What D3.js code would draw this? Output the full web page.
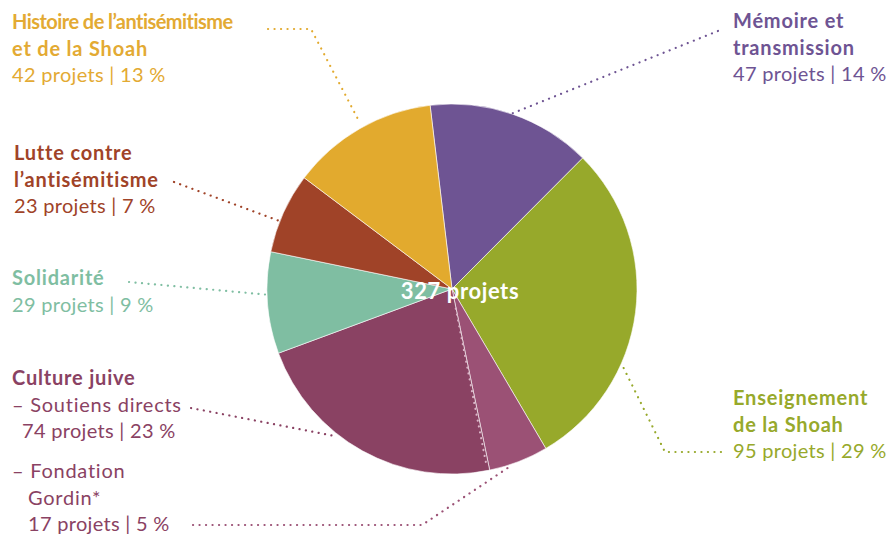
<!DOCTYPE html>
<html><head><meta charset="utf-8">
<script src="https://cdn.jsdelivr.net/npm/d3@7/dist/d3.min.js"></script>
<style>body{margin:0;background:#fff}svg{display:block}text{font-family:Lato,"Open Sans",sans-serif}</style>
</head><body>
<svg id="c" width="893" height="535"></svg>
<script>
// Data (clockwise from the top)
const categories = ["Mémoire et transmission","Enseignement de la Shoah","Fondation Gordin","Culture juive – Soutiens directs","Solidarité","Lutte contre l’antisémitisme","Histoire de l’antisémitisme et de la Shoah"];
const values = [47, 95, 17, 74, 29, 23, 42];
const percents = [14, 29, 5, 23, 9, 7, 13];
const totalLabel = "327 projets";

// Styles
const colors = ["#6e5493","#97a92b","#9b5175","#8a4263","#7fbea2","#a04328","#e2aa2e"];
const textColors = ["#6e5493","#97a92b","#8a4263","#8a4263","#7fbea2","#a04328","#e3aa33"];

// Layout
const W = 893, H = 535, cx = 452, cy = 289, R = 185;
const startDeg = -6.8;
const svg = d3.select("#c");
const g = svg.append("g").attr("transform", `translate(${cx},${cy})`);

const pie = d3.pie().sort(null).value(d => d)
  .startAngle(startDeg * Math.PI / 180)
  .endAngle((360 + startDeg) * Math.PI / 180);
const arcs = pie(values);
const arc = d3.arc().innerRadius(0).outerRadius(R);

g.selectAll("path.slice").data(arcs).enter().append("path")
  .attr("class", "slice")
  .attr("d", arc)
  .attr("fill", (d, i) => colors[i])
  .attr("stroke", "#fff").attr("stroke-width", 0.6);

// dotted separator inside Culture juive (boundary with Fondation Gordin)
const sep = arcs[2].endAngle;
const ptAt = (a, r) => [r * Math.sin(a), -r * Math.cos(a)];
{
  const a = sep + 0.012;
  const p1 = ptAt(a, 20), p2 = ptAt(a, R - 8);
  g.append("line").attr("x1", p1[0]).attr("y1", p1[1]).attr("x2", p2[0]).attr("y2", p2[1])
    .attr("stroke", "#d9b3c6").attr("stroke-width", 2.2)
    .attr("stroke-dasharray", "0.1 5.9").attr("stroke-linecap", "round");
}

// center label
g.append("text").attr("x", 8).attr("y", 10).attr("text-anchor", "middle")
  .attr("fill", "#fff").attr("font-size", 22).attr("font-weight", 700)
  .attr("letter-spacing", 0.6).text(totalLabel);

// label lines: [text, style (1 bold, 0 regular words, 2 numbers), dx, letter-spacing override]
const lh = 26.5;
const labels = [
  {i:0, x:733, y:28, lines:[["Mémoire et",1,0],["transmission",1,0],[`${values[0]} projets | ${percents[0]} %`,2,0]],
   leader:{pts:[[718,31]], frac:0.5, r:186}},
  {i:1, x:733, y:405, lines:[["Enseignement",1,0],["de la Shoah",1,0],[`${values[1]} projets | ${percents[1]} %`,2,0]],
   leader:{pts:[[721,452],[665,452]], frac:0.66, r:186}},
  {i:2, x:12, y:478, lines:[["– Fondation",0,0],["Gordin*",0,16],[`${values[2]} projets | ${percents[2]} %`,2,16]],
   leader:{pts:[[193,525],[422,525]], frac:0.68, r:187}},
  {i:3, x:12, y:385, lines:[["Culture juive",1,0],["– Soutiens directs",0,0],[`${values[3]} projets | ${percents[3]} %`,2,10]],
   leader:{pts:[[191,408]], frac:0.61, r:187}},
  {i:4, x:12, y:285, lines:[["Solidarité",1,0],[`${values[4]} projets | ${percents[4]} %`,2,0]],
   leader:{pts:[[129,282]], frac:0.58, r:185}},
  {i:5, x:14, y:160, lines:[["Lutte contre",1,0],["l’antisémitisme",1,0],[`${values[5]} projets | ${percents[5]} %`,2,0]],
   leader:{pts:[[174,182]], frac:0.39, r:184}},
  {i:6, x:12, y:29, lines:[["Histoire de l’antisémitisme",1,0,-0.55],["et de la Shoah",1,0],[`${values[6]} projets | ${percents[6]} %`,2,0]],
   leader:{pts:[[268,29],[311,29]], frac:0.52, r:190}}
];
const styleLS = {1: 0.8, 0: 0.75, 2: 0.3};

labels.forEach(L => {
  const t = svg.append("text").attr("fill", textColors[L.i]).attr("font-size", 20);
  L.lines.forEach((ln, k) => {
    t.append("tspan").attr("x", L.x + ln[2]).attr("y", L.y + k * (L.i === 4 ? 27 : lh))
      .attr("font-weight", ln[1] === 1 ? 700 : 400)
      .attr("letter-spacing", ln[3] !== undefined ? ln[3] : styleLS[ln[1]])
      .text(ln[0]);
  });
  const d = arcs[L.i];
  const a = d.startAngle + L.leader.frac * (d.endAngle - d.startAngle);
  const e = ptAt(a, L.leader.r);
  const pts = L.leader.pts.concat([[cx + e[0], cy + e[1]]]);
  svg.append("path").attr("d", d3.line()(pts)).attr("fill", "none")
    .attr("stroke", colors[L.i]).attr("stroke-width", 2.2)
    .attr("stroke-dasharray", "0.1 6.4").attr("stroke-linecap", "round");
});
</script>
</body></html>
